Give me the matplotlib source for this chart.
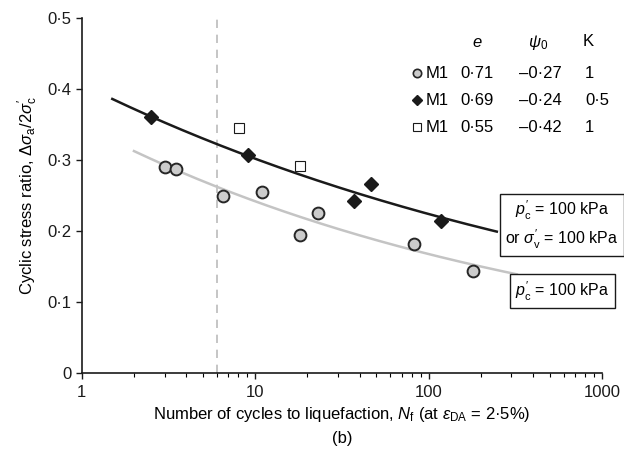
import numpy as np
import matplotlib
matplotlib.use("Agg")
import matplotlib.pyplot as plt
from matplotlib.ticker import FixedLocator, LogLocator, NullFormatter

plt.rcParams['font.family'] = ['Liberation Sans', 'DejaVu Sans']
plt.rcParams['mathtext.fontset'] = 'custom'
plt.rcParams['mathtext.rm'] = 'Liberation Sans'
plt.rcParams['mathtext.it'] = 'Liberation Sans:italic'
plt.rcParams['mathtext.sf'] = 'Liberation Sans'

# data
# M1, e = 0.71, K = 1 (grey circles)
circ_n = [3.0, 3.5, 6.5, 11.0, 18.1, 23.1, 82.4, 179.6]
circ_csr = [0.290, 0.287, 0.250, 0.255, 0.195, 0.226, 0.182, 0.144]
# M1, e = 0.69, K = 0.5 (black diamonds)
diam_n = [2.5, 9.1, 37.1, 46.3, 117.4]
diam_csr = [0.360, 0.307, 0.242, 0.266, 0.214]
# M1, e = 0.55, K = 1 (open squares)
sq_n = [8.05, 18.1]
sq_csr = [0.345, 0.291]

# trend lines, points
black_curve_n = [1.5, 2.5, 9.1, 52.0, 247.0]
black_curve_csr = [0.387, 0.360, 0.306, 0.244, 0.199]
grey_curve_n = [2.0, 6.0, 52.0, 322.0]
grey_curve_csr = [0.313, 0.262, 0.186, 0.139]

n_limit = 6  # dashed reference line

legend_rows = [
    ('M1', '0·71', '–0·27', '1'),
    ('M1', '0·69', '–0·24', '0·5'),
    ('M1', '0·55', '–0·42', '1'),
]

y_ticks = [0, 0.1, 0.2, 0.3, 0.4, 0.5]
y_tick_labels = ['0', '0·1', '0·2', '0·3', '0·4', '0·5']
x_ticks = [1, 10, 100, 1000]
x_tick_labels = ['1', '10', '100', '1000']


def power_fit(n, csr):
    # straight line in log-log space
    b, a = np.polyfit(np.log10(n), np.log10(csr), 1)
    xs = np.geomspace(min(n), max(n), 200)
    return xs, 10 ** (a + b * np.log10(xs))


fig = plt.figure(figsize=(6.24, 4.65), dpi=100)
ax = fig.add_axes([0.131, 0.198, 0.834, 0.763])

ax.axvline(n_limit, color='#bbbbbb', lw=1.2, ls=(0, (5, 4)), zorder=1)

xs, ys = power_fit(black_curve_n, black_curve_csr)
ax.plot(xs, ys, color='#1a1a1a', lw=1.8, zorder=2)
xs, ys = power_fit(grey_curve_n, grey_curve_csr)
ax.plot(xs, ys, color='#c4c4c4', lw=1.8, zorder=2)

ax.plot(circ_n, circ_csr, 'o', ms=8.5, mfc='#cccccc', mec='#262626', mew=1.4, ls='none', zorder=4)
ax.plot(diam_n, diam_csr, 'D', ms=7.5, mfc='#1a1a1a', mec='#1a1a1a', ls='none', zorder=4)
ax.plot(sq_n, sq_csr, 's', ms=7, mfc='white', mec='#1a1a1a', mew=0.8, ls='none', zorder=4)

ax.set_xscale('log')
ax.set_xlim(1, 1000)
ax.set_ylim(0, 0.5)
ax.xaxis.set_major_locator(FixedLocator(x_ticks))
ax.set_xticklabels(x_tick_labels)
ax.xaxis.set_minor_locator(LogLocator(base=10, subs=np.arange(2, 10)))
ax.xaxis.set_minor_formatter(NullFormatter())
ax.set_yticks(y_ticks)
ax.set_yticklabels(y_tick_labels)
ax.tick_params(axis='both', which='major', labelsize=12, direction='out', length=4, width=1, colors='#1a1a1a')
ax.tick_params(axis='x', which='minor', direction='out', length=3, width=0.8)
ax.tick_params(axis='x', pad=5)
for s in ['top', 'right']:
    ax.spines[s].set_visible(False)
for s in ['left', 'bottom']:
    ax.spines[s].set_linewidth(1.2)
    ax.spines[s].set_color('#1a1a1a')

ax.set_ylabel(r"Cyclic stress ratio, $\Delta\sigma_{\rm a}/2\sigma^{\prime}_{\rm c}$", fontsize=12, labelpad=5)
ax.set_xlabel(r"Number of cycles to liquefaction, $N_{\rm f}$ (at $\varepsilon_{\rm DA}$ = 2·5%)", fontsize=12, labelpad=3)
fig.text(0.548, 0.058, '(b)', ha='center', va='center', fontsize=12)

# legend table
tr = ax.transAxes
ax.text(0.760, 0.930, r'$e$', transform=tr, ha='center', va='center', fontsize=12)
ax.text(0.876, 0.930, r'$\psi_0$', transform=tr, ha='center', va='center', fontsize=12)
ax.text(0.963, 0.935, 'K', transform=tr, ha='left', va='center', fontsize=12)
row_y = [0.845, 0.769, 0.693]
ax.plot(0.644, row_y[0], 'o', transform=tr, ms=6, mfc='#cccccc', mec='#262626', mew=1.2, clip_on=False)
ax.plot(0.644, row_y[1], 'D', transform=tr, ms=5.5, mfc='#1a1a1a', mec='#1a1a1a', clip_on=False)
ax.plot(0.644, row_y[2], 's', transform=tr, ms=5.5, mfc='white', mec='#1a1a1a', mew=0.8, clip_on=False)
for y, (name, e, psi, k) in zip(row_y, legend_rows):
    ax.text(0.660, y, name, transform=tr, ha='left', va='center', fontsize=12)
    ax.text(0.760, y, e, transform=tr, ha='center', va='center', fontsize=12)
    ax.text(0.881, y, psi, transform=tr, ha='center', va='center', fontsize=12)
    ax.text(0.967, y, k, transform=tr, ha='left', va='center', fontsize=12)

box = dict(boxstyle='square,pad=0.35', fc='white', ec='#1a1a1a', lw=1)
ax.text(0.923, 0.417, "$p^{\\prime}_{\\rm c}$ = 100 kPa\nor $\\sigma^{\\prime}_{\\rm v}$ = 100 kPa", transform=tr,
        ha='center', va='center', fontsize=11.5, bbox=box, zorder=5, linespacing=1.3, clip_on=False)
ax.text(0.924, 0.231, "$p^{\\prime}_{\\rm c}$ = 100 kPa", transform=tr,
        ha='center', va='center', fontsize=11.5, bbox=box, zorder=5, clip_on=False)

fig.savefig('out.png', dpi=100)
